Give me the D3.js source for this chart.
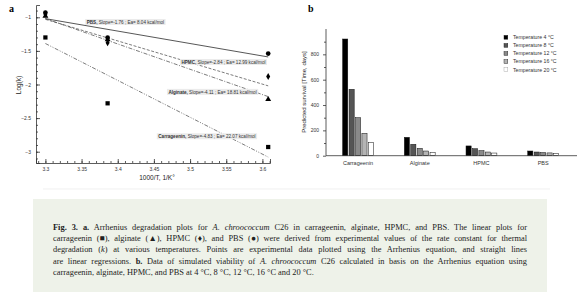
<!DOCTYPE html>
<html>
<head>
<meta charset="utf-8">
<script src="https://cdn.jsdelivr.net/npm/d3@7"></script>
<style>
  body { margin: 0; background: #fff; }
  svg { display: block; }
  .tick text { font-family: "Liberation Sans", Arial, sans-serif; }
</style>
</head>
<body>
<svg id="fig" width="580" height="292"></svg>
<script>
// panel a: log(k) against 1000/T
const xTicksA = [3.3, 3.35, 3.4, 3.45, 3.5, 3.55, 3.6];
const yTicksA = [-1, -1.5, -2, -2.5, -3];
const invTemp = [3.3, 3.386, 3.608];
const pbsK = [-0.93, -1.30, -1.54];
const hpmcK = [-0.95, -1.38, -1.88];
const alginateK = [-0.98, -1.33, -2.22];
const carrageeninK = [-1.30, -2.28, -2.93];
const fitX = [3.3, 3.608];
const pbsFit = [-1.02, -1.59];
const hpmcFit = [-1.03, -2.02];
const alginateFit = [-1.02, -2.18];
const carrageeninFit = [-1.39, -3.08];
const fitNames = ["PBS", "HPMC", "Alginate", "Carrageenin"];
const fitText = ["Slope=-1.76 ; Ea= 8.04 kcal/mol", "Slope=-2.84 ; Ea= 12.99 kcal/mol",
  "Slope=-4.11 ; Ea= 18.81 kcal/mol", "Slope=-4.83 ; Ea= 22.07 kcal/mol"];

// panel b: predicted survival in days
const materials = ["Carrageenin", "Alginate", "HPMC", "PBS"];
const temps = ["Temperature 4 °C", "Temperature 8 °C", "Temperature 12 °C", "Temperature 16 °C", "Temperature 20 °C"];
const days4 = [921, 145, 77, 37];
const days8 = [524, 90, 55, 29];
const days12 = [300, 58, 40, 25];
const days16 = [177, 37, 29, 22];
const days20 = [106, 27, 21, 17];
const yTicksB = [0, 200, 400, 600, 800];

// caption, one entry per printed line; b = bold, i = italic
const caption = [
  [["Fig. 3. a.", "b"], [" Arrhenius degradation plots for "], ["A. chroococcum", "i"], [" C26 in carrageenin, alginate, HPMC, and PBS. The linear plots for"]],
  [["carrageenin (■), alginate (▲), HPMC (♦), and PBS (●) were derived from experimental values of the rate constant for thermal"]],
  [["degradation ("], ["k", "i"], [") at various temperatures. Points are experimental data plotted using the Arrhenius equation, and straight lines"]],
  [["are linear regressions. "], ["b.", "b"], [" Data of simulated viability of "], ["A. chroococcum", "i"], [" C26 calculated in basis on the Arrhenius equation using"]],
  [["carrageenin, alginate, HPMC, and PBS at 4 °C, 8 °C, 12 °C, 16 °C and 20 °C."]]
];

const svg = d3.select("#fig");
const sans = '"Liberation Sans", Arial, sans-serif';
const serif = '"Liberation Serif", "Times New Roman", serif';

// ---------- panel a ----------
const xA = d3.scaleLinear().domain([3.287, 3.6105]).range([36, 270]);
const yA = d3.scaleLinear().domain([-3.168, -0.817]).range([163, 5]);

const gA = svg.append("g");

gA.append("g")
  .attr("transform", "translate(0,163)")
  .call(d3.axisBottom(xA).tickValues(d3.range(3.29, 3.611, 0.01)).tickSize(-2).tickFormat(""))
  .call(g => g.select(".domain").remove());
gA.append("g")
  .attr("transform", "translate(0,163)")
  .call(d3.axisBottom(xA).tickValues(xTicksA).tickSize(-4).tickPadding(4).tickFormat(d3.format("")))
  .call(g => g.selectAll("text").attr("font-size", 5).attr("fill", "#333"));
gA.append("g")
  .attr("transform", "translate(36,0)")
  .call(d3.axisLeft(yA).tickValues(d3.range(-3.1, -0.85, 0.1)).tickSize(-2).tickFormat(""))
  .call(g => g.select(".domain").remove());
gA.append("g")
  .attr("transform", "translate(36,0)")
  .call(d3.axisLeft(yA).tickValues(yTicksA).tickSize(-4).tickPadding(5).tickFormat(d3.format("")))
  .call(g => g.selectAll("text").attr("font-size", 5).attr("fill", "#333"));
gA.selectAll(".domain, .tick line").attr("stroke", "#333").attr("stroke-width", 0.8);

gA.append("text").attr("x", 157).attr("y", 180).attr("text-anchor", "middle")
  .attr("font-family", sans).attr("font-size", 6.5).attr("fill", "#222").text("1000/T, 1/K°");
gA.append("text").attr("transform", "translate(21,85) rotate(-90)").attr("text-anchor", "middle")
  .attr("font-family", sans).attr("font-size", 6.5).attr("fill", "#222").text("Log(k)");
gA.append("text").attr("x", 9).attr("y", 12).attr("font-family", serif)
  .attr("font-weight", "bold").attr("font-size", 10).text("a");

const fits = [pbsFit, hpmcFit, alginateFit, carrageeninFit];
const dashes = [null, "3,1.6", "4,1.5,1,1.5", "4,1.5,1,1.5,1,1.5"];
const line = d3.line().x(d => xA(d[0])).y(d => yA(d[1]));
fits.forEach((f, i) => {
  gA.append("path")
    .datum(fitX.map((x, j) => [x, f[j]]))
    .attr("d", line)
    .attr("fill", "none")
    .attr("stroke", "#444")
    .attr("stroke-width", i === 0 ? 0.9 : 0.7)
    .attr("stroke-dasharray", dashes[i]);
});

// labels next to the fits, placed in data units
const labelPos = [[3.355, -1.07], [3.486, -1.665], [3.468, -2.11], [3.454, -2.77]];
fitNames.forEach((name, i) => {
  const g = gA.append("g").attr("transform", `translate(${xA(labelPos[i][0])},${yA(labelPos[i][1])})`);
  const bg = g.append("rect").attr("fill", "#ebebeb");
  const t = g.append("text").attr("x", 1.5).attr("y", 1.7)
    .attr("font-family", sans).attr("font-size", 4.6).attr("fill", "#333");
  t.append("tspan").attr("font-weight", "bold").text(name + ",");
  t.append("tspan").text(" " + fitText[i]);
  const w = t.node().getComputedTextLength();
  bg.attr("x", 0).attr("y", -3).attr("width", w + 3).attr("height", 6);
});

const seriesK = [pbsK, hpmcK, alginateK, carrageeninK];
const shapes = [d3.symbolCircle, d3.symbolDiamond, d3.symbolTriangle, d3.symbolSquare];
const sizes = [17, 14, 15, 18];
seriesK.forEach((s, i) => {
  gA.selectAll(null)
    .data(invTemp.map((x, j) => [x, s[j]]))
    .join("path")
    .attr("transform", d => `translate(${xA(d[0])},${yA(d[1])})`)
    .attr("d", d3.symbol(shapes[i], sizes[i]))
    .attr("fill", "#000");
});

// ---------- panel b ----------
const x0 = d3.scaleBand().domain(materials).range([327.2, 574]).paddingInner(0.5).paddingOuter(0.25);
const x1 = d3.scaleBand().domain(temps).range([0, x0.bandwidth()]).paddingInner(0.2);
const yB = d3.scaleLinear().domain([0, 1000]).range([155.7, 29]);
const fills = ["#000", "#555", "#8a8a8a", "#b4b4b4", "#fff"];
const series = [days4, days8, days12, days16, days20];

const gB = svg.append("g");
gB.append("g")
  .attr("transform", "translate(326,0)")
  .call(d3.axisLeft(yB).tickValues(d3.range(100, 1000, 200)).tickSize(2).tickFormat(""))
  .call(g => g.select(".domain").remove());
gB.append("g")
  .attr("transform", "translate(326,0)")
  .call(d3.axisLeft(yB).tickValues(yTicksB).tickSize(3).tickPadding(4))
  .call(g => g.select(".domain").attr("d", "M0,29V155.7"))
  .call(g => g.selectAll("text").attr("font-size", 5).attr("fill", "#333"));

series.forEach((s, k) => {
  gB.selectAll(null)
    .data(materials.map((m, j) => ({ m, v: s[j] })))
    .join("rect")
    .attr("x", d => x0(d.m) + x1(temps[k]))
    .attr("y", d => yB(d.v))
    .attr("width", x1.bandwidth())
    .attr("height", d => yB(0) - yB(d.v))
    .attr("fill", fills[k])
    .attr("stroke", "#111")
    .attr("stroke-width", 0.5);
});

gB.append("g")
  .attr("transform", "translate(0,155.7)")
  .call(d3.axisBottom(x0).tickSize(0).tickPadding(5))
  .call(g => g.select(".domain").attr("d", "M326,0H577"))
  .call(g => g.selectAll("text").attr("font-size", 5.5).attr("fill", "#333"));
gB.selectAll(".domain, .tick line").attr("stroke", "#333").attr("stroke-width", 0.8);

gB.append("text").attr("transform", "translate(306,92) rotate(-90)").attr("text-anchor", "middle")
  .attr("font-family", sans).attr("font-size", 6).attr("fill", "#222").text("Predicted survival [Time, days]");
gB.append("text").attr("x", 308).attr("y", 12).attr("font-family", serif)
  .attr("font-weight", "bold").attr("font-size", 10).text("b");

const legend = gB.append("g").attr("transform", "translate(504,37.3)");
temps.forEach((t, k) => {
  const row = legend.append("g").attr("transform", `translate(0,${k * 8.1})`);
  row.append("rect").attr("x", 0).attr("y", -1.9).attr("width", 3.8).attr("height", 3.8)
    .attr("fill", fills[k]).attr("stroke", k === 4 ? "#999" : "#111").attr("stroke-width", 0.4);
  row.append("text").attr("x", 9).attr("y", 1.8).attr("font-family", sans)
    .attr("font-size", 5.2).attr("fill", "#333").text(t);
});

// ---------- caption ----------
svg.append("line").attr("x1", 43).attr("x2", 550).attr("y1", 189).attr("y2", 189)
  .attr("stroke", "#e6e6e6").attr("stroke-width", 0.6);
svg.append("rect").attr("x", 33).attr("y", 199).attr("width", 514).attr("height", 93).attr("fill", "#eef2e9");

const capLeft = 53, capWidth = 474;
caption.forEach((segs, i) => {
  const t = svg.append("text").attr("x", capLeft).attr("y", 229.5 + i * 11.4)
    .attr("font-family", serif).attr("font-size", 8.4).attr("fill", "#222")
    .attr("xml:space", "preserve");
  segs.forEach(([str, st]) => {
    const sp = t.append("tspan").text(str);
    if (st === "b") sp.attr("font-weight", "bold");
    if (st === "i") sp.attr("font-style", "italic");
  });
  if (i < caption.length - 1) {
    const w = t.node().getComputedTextLength();
    const spaces = segs.map(s => s[0]).join("").split(" ").length - 1;
    t.attr("word-spacing", (capWidth - w) / spaces);
  }
});
</script>
</body>
</html>
